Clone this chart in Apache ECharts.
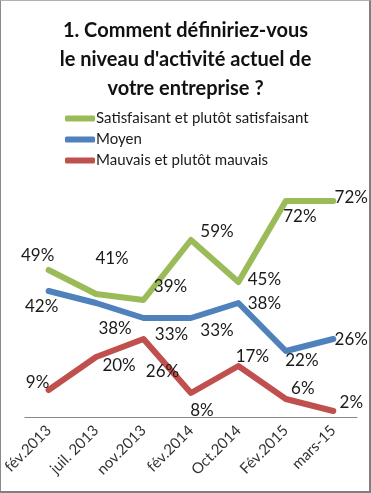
<!DOCTYPE html>
<html>
<head>
<meta charset="utf-8">
<script src="https://cdn.jsdelivr.net/npm/echarts@6/dist/echarts.min.js"></script>
<style>
  html, body { margin: 0; padding: 0; background: #fff; }
  #frame { position: relative; width: 371px; height: 493px; box-sizing: border-box;
           border-left: 1px solid #8a8a8a; border-top: 1px solid #b0b0b0;
           border-right: 2px solid #7f7f7f; border-bottom: 2px solid #7f7f7f; }
  #chart { position: absolute; left: -1px; top: -1px; width: 371px; height: 493px; }
</style>
</head>
<body>
<div id="frame"><div id="chart"></div></div>
<script>
const categories = ['fév.2013', 'juil. 2013', 'nov.2013', 'fév.2014', 'Oct.2014', 'Fév.2015', 'mars-15'];
const satisfaisant = [49, 41, 39, 59, 45, 72, 72];
const moyen = [42, 38, 33, 33, 38, 22, 26];
const mauvais = [9, 20, 26, 8, 17, 6, 2];
const seriesNames = ['Satisfaisant et plutôt satisfaisant', 'Moyen', 'Mauvais et plutôt mauvais'];
const titleText = '1. Comment définiriez-vous\nle niveau d\'activité actuel de\nvotre entreprise ?';

// label offsets (styling only), relative to each point
const offSat = [[-11, -14], [16, -35], [27, -13], [26, -8], [26, -2], [14, 16], [18, -3]];
const offMoy = [[-7, 16], [19, 26], [28, 17], [26, 13], [26, 1], [16, 10], [18, 1]];
const offMau = [[-11, -7], [23, 9], [19, 33], [11, 18], [14, -9], [17, -10], [18, -8]];

const FONT = 'Lato, "Open Sans", sans-serif';

function mkSeries(name, values, color, offs) {
  return {
    name: name,
    type: 'line',
    data: values.map((v, i) => ({
      value: v,
      label: { offset: offs[i] }
    })),
    symbol: 'circle',
    symbolSize: 1,
    itemStyle: { color: color },
    lineStyle: { color: color, width: 6, cap: 'round', join: 'round' },
    label: {
      show: true,
      position: 'inside',
      formatter: p => p.value + '%',
      color: '#1a1a1a',
      fontFamily: FONT,
      fontSize: 17
    },
    emphasis: { disabled: true },
    animation: false
  };
}

const chart = echarts.init(document.getElementById('chart'), null, { renderer: 'canvas' });
chart.setOption({
  animation: false,
  backgroundColor: 'transparent',
  title: {
    text: titleText,
    left: 'center',
    top: 11,
    textStyle: { fontFamily: FONT, fontWeight: 'bold', fontSize: 20, lineHeight: 29, color: '#111' }
  },
  legend: {
    orient: 'vertical',
    left: 65,
    top: 111,
    padding: 0,
    itemGap: 6,
    itemWidth: 30,
    itemHeight: 6,
    icon: 'roundRect',
    textStyle: { fontFamily: FONT, fontSize: 15, color: '#1a1a1a', padding: [0, 0, 0, -4] },
    data: seriesNames
  },
  grid: { left: 24, right: 14, top: 177, bottom: 76, containLabel: false },
  xAxis: {
    type: 'category',
    data: categories,
    boundaryGap: true,
    axisLine: { lineStyle: { color: '#888', width: 1 } },
    axisTick: { show: false },
    axisLabel: { rotate: 45, margin: 11, fontFamily: FONT, fontSize: 15, color: '#333', interval: 0 }
  },
  yAxis: {
    type: 'value',
    min: 0,
    max: 80,
    show: false,
    splitLine: { show: false }
  },
  series: [
    mkSeries(seriesNames[0], satisfaisant, '#9bbb59', offSat),
    mkSeries(seriesNames[1], moyen, '#4f81bd', offMoy),
    mkSeries(seriesNames[2], mauvais, '#c0504d', offMau)
  ]
});
</script>
</body>
</html>
